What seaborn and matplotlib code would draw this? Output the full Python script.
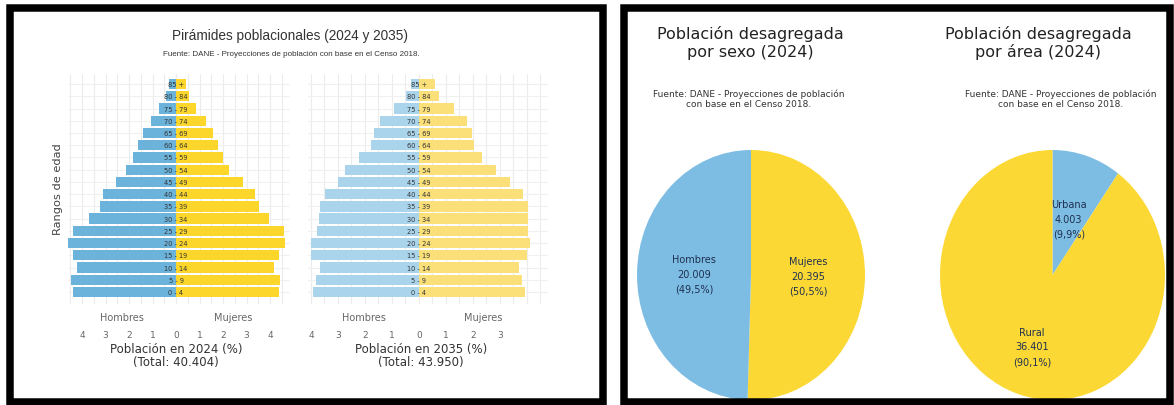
import numpy as np
import pandas as pd
import matplotlib
matplotlib.use("Agg")
import matplotlib.pyplot as plt
import seaborn as sns
from matplotlib.patches import Rectangle
from matplotlib.ticker import MultipleLocator

# ---- data ----
ages = ["0 - 4", "5 - 9", "10 - 14", "15 - 19", "20 - 24", "25 - 29", "30 - 34",
        "35 - 39", "40 - 44", "45 - 49", "50 - 54", "55 - 59", "60 - 64",
        "65 - 69", "70 - 74", "75 - 79", "80 - 84", "85 +"]

hombres_2024 = [4.40, 4.47, 4.23, 4.40, 4.60, 4.40, 3.69, 3.25, 3.09, 2.57,
                2.14, 1.82, 1.60, 1.39, 1.08, 0.71, 0.43, 0.30]
mujeres_2024 = [4.40, 4.43, 4.18, 4.38, 4.65, 4.60, 3.97, 3.53, 3.36, 2.84,
                2.27, 1.99, 1.80, 1.59, 1.28, 0.85, 0.57, 0.43]
hombres_2035 = [3.93, 3.83, 3.68, 3.99, 3.99, 3.78, 3.70, 3.68, 3.47, 3.00,
                2.73, 2.22, 1.79, 1.68, 1.46, 0.93, 0.49, 0.31]
mujeres_2035 = [3.94, 3.83, 3.69, 4.01, 4.10, 4.04, 4.04, 4.04, 3.85, 3.38,
                2.84, 2.35, 2.02, 1.96, 1.79, 1.30, 0.74, 0.58]

total_2024 = "40.404"
total_2035 = "43.950"

sexo_labels = ["Mujeres", "Hombres"]
sexo_values = [20395, 20009]
area_labels = ["Urbana", "Rural"]
area_values = [4003, 36401]

fuente = "Fuente: DANE - Proyecciones de población con base en el Censo 2018."

# ---- style ----
sns.set_theme(style="white")
plt.rcParams["font.family"] = ["DejaVu Sans"]

W, H = 1174, 406
fig = plt.figure(figsize=(W / 100, H / 100), dpi=100)
fig.patch.set_facecolor("white")


def px_axes(x0, y0, x1, y1):
    return fig.add_axes([x0 / W, 1 - y1 / H, (x1 - x0) / W, (y1 - y0) / H])


def px_text(x, y, s, **kw):
    fig.text(x / W, 1 - y / H, s, ha=kw.pop("ha", "center"), va=kw.pop("va", "center"), **kw)


def pyramid(ax, hombres, mujeres, colors, xlim, xticks):
    order = ages[::-1]
    df = pd.DataFrame({
        "edad": ages * 2,
        "sexo": ["Hombres"] * len(ages) + ["Mujeres"] * len(ages),
        "pct": [-v for v in hombres] + list(mujeres),
    })
    sns.barplot(data=df, x="pct", y="edad", hue="sexo", order=order,
                hue_order=["Hombres", "Mujeres"], palette=colors, dodge=False,
                width=0.84, orient="h", errorbar=None, legend=False,
                saturation=1, linewidth=0, ax=ax)
    ax.set_xlim(*xlim)
    ax.set_ylim(len(ages) - 1 + 0.98, -0.82)
    ax.set_xticks(xticks)
    ax.set_xticklabels([str(abs(t)) for t in xticks])
    ax.xaxis.set_minor_locator(MultipleLocator(0.5))
    ax.grid(which="both", axis="x", color="#ececec", lw=0.8)
    ax.grid(which="major", axis="y", color="#f0f0f0", lw=0.8)
    ax.set_axisbelow(True)
    ax.set_yticklabels([])
    ax.tick_params(axis="y", length=0)
    ax.tick_params(axis="x", which="both", length=0, pad=18.5, labelsize=6.5,
                   labelcolor="#666666")
    ax.set_xlabel("")
    ax.set_ylabel("")
    for s in ax.spines.values():
        s.set_visible(False)
    for i, lab in enumerate(order):
        ax.text(0, i, lab, ha="center", va="center", fontsize=4.8, color="#333333")
    tr = ax.get_xaxis_transform()
    ax.text(xlim[0] / 2, -0.055, "Hombres", transform=tr, ha="center", va="center",
            fontsize=7, color="#666666")
    ax.text(xlim[1] / 2, -0.055, "Mujeres", transform=tr, ha="center", va="center",
            fontsize=7, color="#666666")


# ---- left panel: pyramids ----
ax1 = px_axes(68, 75, 290, 305)
pyramid(ax1, hombres_2024, mujeres_2024, ["#6BB3DB", "#FCD62B"],
        (-4.596, 4.851), list(range(-4, 5)))
ax2 = px_axes(308, 75, 548, 305)
pyramid(ax2, hombres_2035, mujeres_2035, ["#A9D4EC", "#FBE07A"],
        (-4.111, 4.778), list(range(-4, 4)))

px_text(290, 36, "Pirámides poblacionales (2024 y 2035)", fontsize=9.8,
        color="#333333", family=["Liberation Sans"])
px_text(291, 55, fuente, fontsize=5.8, color="#333333", family=["Liberation Sans"])
px_text(58, 189, "Rangos de edad", rotation=90, fontsize=8.2, color="#444444")
px_text(176, 356, f"Población en 2024 (%)\n(Total: {total_2024})", fontsize=8.5,
        color="#333333", linespacing=0.95)
px_text(421, 356, f"Población en 2035 (%)\n(Total: {total_2035})", fontsize=8.5,
        color="#333333", linespacing=0.95)

# ---- right panel: pies ----
def pie(ax, labels, values, colors, label_r):
    total = sum(values)
    wedges, _ = ax.pie(values, colors=colors, startangle=90, counterclock=False,
                       radius=1, wedgeprops=dict(linewidth=0))
    ax.set_xlim(-1, 1)
    ax.set_ylim(-1, 1)
    ax.set_aspect("auto")
    for w, lab, v, r in zip(wedges, labels, values, label_r):
        ang = np.deg2rad((w.theta1 + w.theta2) / 2)
        pct = f"{v / total * 100:.1f}".replace(".", ",")
        txt = f"{lab}\n{v:,}".replace(",", ".") + f"\n({pct}%)"
        ax.text(r * np.cos(ang), r * np.sin(ang), txt, ha="center", va="center",
                fontsize=7, color="#1F3050", linespacing=1.6)


ax3 = px_axes(637, 151, 865, 401)
pie(ax3, sexo_labels, sexo_values, ["#FCD835", "#7DBDE3"], [0.5, 0.5])
ax4 = px_axes(940, 151, 1165, 401)
pie(ax4, area_labels, area_values, ["#7DBDE3", "#FCD835"], [0.47, 0.6])

px_text(750, 43, "Población desagregada\npor sexo (2024)", fontsize=11.5, color="#222222")
px_text(1038, 43, "Población desagregada\npor área (2024)", fontsize=11.5, color="#222222")
px_text(749, 99, "Fuente: DANE - Proyecciones de población\ncon base en el Censo 2018.",
        fontsize=6.5, color="#333333", linespacing=1.1)
px_text(1061, 99, "Fuente: DANE - Proyecciones de población\ncon base en el Censo 2018.",
        fontsize=6.5, color="#333333", linespacing=1.1)

# ---- black frames ----
for x0, y0, x1, y1 in [(9.5, 9, 603, 403), (624, 9, 1170, 403)]:
    fig.patches.append(Rectangle((x0 / W, 1 - y1 / H), (x1 - x0) / W, (y1 - y0) / H,
                                 transform=fig.transFigure, fill=False,
                                 lw=5.4, ec="black", zorder=10))

fig.savefig("out.png", dpi=100, facecolor="white")
